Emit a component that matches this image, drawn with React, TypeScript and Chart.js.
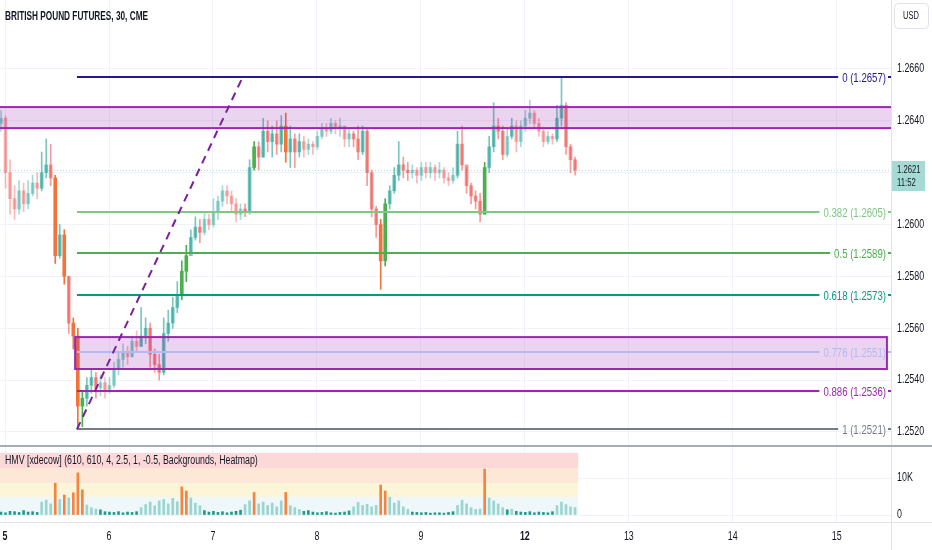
import React, { useEffect, useRef } from 'react';
import { Chart, registerables } from 'chart.js';

Chart.register(...registerables);

// ---------------- data ----------------
const title = 'BRITISH POUND FUTURES, 30, CME';
const indicatorLabel = 'HMV [xdecow] (610, 610, 4, 2.5, 1, -0.5, Backgrounds, Heatmap)';
const dayLabels = ['5', '6', '7', '8', '9', '12', '13', '14', '15'];
const boldDayLabels = ['5', '12'];
const priceTicks = [1.252, 1.254, 1.256, 1.258, 1.26, 1.262, 1.264, 1.266];
const volumeTicksK = [0, 10];

// prices in pips above 1.2500, one bucket per hour
const firstOpen = 139;
const closes = [
  141, 120, 110, 106, 113, 108, 112, 116, 114, 120, 123, 118, 88, 96, 80, 62, 57, 30, 33, 38,
  41, 37, 39, 36, 38, 44, 48, 51, 49, 55, 53, 57, 60, 50, 46, 43, 58, 62, 68, 73,
  82, 88, 95, 99, 97, 102, 100, 105, 109, 113, 111, 108, 104, 106, 105, 122, 130, 126, 136, 132,
  135, 131, 138, 128, 133, 128, 132, 129, 131, 130, 134, 137, 136, 139, 137, 138, 133, 135, 133, 128,
  136, 120, 106, 100, 86, 108, 113, 119, 123, 121, 120, 121, 119, 122, 120, 122, 120, 121, 118, 117,
  119, 131, 123, 115, 111, 109, 104, 122, 130, 138, 136, 127, 134, 138, 132, 138, 141, 143, 139, 136,
  132, 134, 133, 141, 146, 130, 125, 121,
];
const highs = [
  144, 142, 125, 115, 117, 116, 117, 119, 120, 128, 133, 131, 119, 100, 98, 80, 64, 60, 36, 41,
  44, 43, 42, 41, 41, 47, 51, 54, 53, 57, 59, 68, 64, 62, 52, 50, 64, 67, 72, 78,
  86, 92, 98, 103, 102, 105, 104, 110, 111, 115, 115, 113, 110, 108, 108, 125, 132, 132, 141, 140,
  138, 140, 142, 143, 138, 135, 135, 134, 133, 132, 136, 139, 139, 141, 140, 141, 138, 137, 136, 138,
  138, 137, 121, 107, 102, 110, 115, 122, 132, 126, 124, 123, 122, 124, 124, 124, 123, 124, 122, 120,
  122, 136, 138, 122, 116, 113, 112, 124, 134, 147, 141, 138, 137, 141, 140, 140, 144, 148, 144, 141,
  137, 136, 135, 146, 157, 147, 131, 126,
];
const lows = [
  136, 114, 104, 102, 104, 105, 106, 111, 110, 113, 118, 115, 85, 87, 77, 58, 52, 21, 22, 30,
  35, 33, 34, 33, 35, 37, 42, 45, 46, 49, 51, 53, 54, 45, 43, 40, 42, 55, 60, 66,
  71, 78, 89, 94, 93, 96, 98, 99, 102, 107, 108, 105, 101, 102, 103, 104, 121, 121, 126, 128,
  126, 127, 128, 124, 122, 122, 126, 126, 127, 127, 129, 133, 134, 135, 135, 134, 130, 130, 130, 125,
  127, 115, 103, 95, 75, 84, 106, 112, 117, 118, 117, 118, 116, 117, 118, 118, 117, 118, 116, 115,
  116, 118, 121, 112, 108, 106, 101, 104, 120, 128, 133, 125, 126, 133, 128, 130, 136, 139, 137, 134,
  130, 131, 131, 132, 138, 127, 120, 119,
];
// volume in thousands of contracts per bucket
const volumesK = [
  0.8, 0.6, 1.0, 0.9, 0.7, 1.2, 0.8, 0.9, 0.7,
  3.5, 4.0, 3.0, 8.6, 4.2, 5.4, 4.6, 6.0, 11.4, 6.8, 2.7, 2.0, 1.6, 1.4, 0.9,
  0.8, 0.7, 0.9, 0.6, 0.8, 0.7, 0.9,
  2.0, 2.8, 3.5, 2.5, 3.8, 4.2, 3.0, 4.5, 3.6, 7.6, 6.5, 4.6, 3.2, 2.5,
  1.2, 0.8, 1.0, 0.7, 0.9, 0.6, 0.8, 1.0,
  1.3, 2.8, 3.8, 6.1, 3.0, 3.5, 2.6, 3.2, 2.2, 3.8, 6.1, 2.5, 2.0, 1.5,
  1.0, 1.2, 0.8, 0.6, 0.7, 0.9, 0.6, 0.5, 0.7, 0.8, 1.1,
  2.2, 3.4, 2.6, 2.9, 2.2, 2.6, 8.1, 6.5, 4.8, 3.2, 3.8, 2.2, 1.5,
  0.8, 0.7, 0.6, 0.7, 0.5, 0.6, 0.6, 0.5, 0.7, 0.9,
  2.6, 4.0, 3.0, 2.0, 1.5, 1.6, 12.4, 4.6, 3.8, 3.0, 2.0, 1.4, 1.6, 1.0,
  0.8, 0.7, 0.9, 0.6, 0.8, 0.7, 0.6, 0.9,
  2.5, 3.5, 2.8, 2.2, 2.0,
];
const heatBandsK = [0, 4.9, 8.6, 12.7, 16.8];

const fibLevels = ['0', '0.382', '0.5', '0.618', '0.776', '0.886', '1'];
const fibPrices = [1.2657, 1.2605, 1.2589, 1.2573, 1.2551, 1.2536, 1.2521];
const fibColors = ['#22198f', '#81c784', '#4caf50', '#089981', '#b3b9f2', '#9c27b0', '#787b86'];

const lastPrice = 1.2621;
const countdown = '11:52';

// drawings (data-space anchors: bucket index, price)
const fibStartIndex = 16.8;
const trendFrom = { x: 16.8, y: 1.2521 };
const trendTo = { x: 53.5, y: 1.2657 };
const zoneTop = { from: -5, to: 205, hi: 1.26453, lo: 1.26372 };
const zoneLow = { from: 16.4, to: 196.0, hi: 1.25566, lo: 1.25443 };

// ---------------- layout / style ----------------
const FONT = '"Liberation Sans", Arial, sans-serif';
const SX = 0.74; // horizontal condensing of text
const TITLE_W = 143;
const TEXT = '#131722';
const GRID = '#f0f3fa';
const LINE = '#e0e3eb';
const W = 932;
const MAIN_H = 446;
const VOL_TOP = 447;
const VOL_H = 103;
const AXIS_W = 41;
const X_MIN = -0.22;
const X_MAX = 196.9;
const FIRST_DAY_INDEX = 0.9;
const BUCKETS_PER_DAY = 23;
const PRICE_MIN = 1.25146;
const PRICE_MAX = 1.26866;
const VOL_MIN = -1.89;
const VOL_MAX = 18.38;
const LOW_VOL_K = 1.5;

const toPrice = (p: number) => 1.25 + p / 10000;
const opens = closes.map((c, i) => (i === 0 ? firstOpen : closes[i - 1]));

function candleColor(i: number) {
  const up = closes[i] >= opens[i];
  const v = volumesK[i];
  if (v >= heatBandsK[1]) return up ? '#4caf50' : '#f2743a';
  if (v < LOW_VOL_K) return up ? 'rgba(38,166,154,0.42)' : 'rgba(239,83,80,0.4)';
  return up ? 'rgba(38,166,154,0.62)' : 'rgba(239,83,80,0.58)';
}
function volumeColor(v: number) {
  if (v >= heatBandsK[1]) return '#f5843f';
  if (v < LOW_VOL_K) return '#1f9c8c';
  return 'rgba(38,166,154,0.42)';
}

const dayTickValues = dayLabels.map((_, k) => FIRST_DAY_INDEX + k * BUCKETS_PER_DAY);

function drawText(
  ctx: CanvasRenderingContext2D,
  text: string,
  x: number,
  y: number,
  font: string,
  color: string,
  align: CanvasTextAlign,
  sx: number = SX,
) {
  ctx.save();
  ctx.translate(x, y);
  ctx.scale(sx, 1);
  ctx.font = font;
  ctx.fillStyle = color;
  ctx.textAlign = align;
  ctx.textBaseline = 'middle';
  ctx.fillText(text, 0, 0);
  ctx.restore();
}
function textWidth(ctx: CanvasRenderingContext2D, text: string, font: string, sx: number = SX) {
  ctx.save();
  ctx.font = font;
  const w = ctx.measureText(text).width * sx;
  ctx.restore();
  return w;
}

const mainPlugin = {
  id: 'mainDrawings',
  afterDatasetsDraw(chart: any) {
    const { ctx, chartArea: a } = chart;
    const x = chart.scales.x;
    const y = chart.scales.y;
    ctx.save();
    ctx.beginPath();
    ctx.rect(a.left, a.top, a.right - a.left, a.bottom - a.top);
    ctx.clip();

    // last price dotted line
    const py = y.getPixelForValue(lastPrice);
    ctx.strokeStyle = 'rgba(38,166,154,0.35)';
    ctx.lineWidth = 1;
    ctx.setLineDash([1, 2]);
    ctx.beginPath();
    ctx.moveTo(a.left, Math.round(py) + 0.5);
    ctx.lineTo(a.right, Math.round(py) + 0.5);
    ctx.stroke();
    ctx.setLineDash([]);

    // zones
    for (const z of [zoneTop, zoneLow]) {
      const x1 = x.getPixelForValue(z.from);
      const x2 = x.getPixelForValue(z.to);
      const y1 = y.getPixelForValue(z.hi);
      const y2 = y.getPixelForValue(z.lo);
      ctx.fillStyle = 'rgba(156,39,176,0.2)';
      ctx.fillRect(x1, y1, x2 - x1, y2 - y1);
      ctx.strokeStyle = '#9c27b0';
      ctx.lineWidth = 2;
      ctx.strokeRect(x1, y1, x2 - x1, y2 - y1);
    }

    // fib levels
    const fibFont = `13px ${FONT}`;
    const xs = x.getPixelForValue(fibStartIndex);
    fibLevels.forEach((lv, k) => {
      const yy = Math.round(y.getPixelForValue(fibPrices[k]));
      const label = `${lv} (${fibPrices[k].toFixed(4)})`;
      const tx = a.right - 5;
      const tw = textWidth(ctx, label, fibFont);
      ctx.strokeStyle = fibColors[k];
      ctx.lineWidth = 2;
      ctx.beginPath();
      ctx.moveTo(xs, yy);
      ctx.lineTo(tx - tw - 4, yy);
      ctx.stroke();
      ctx.beginPath();
      ctx.moveTo(a.right - 3, yy);
      ctx.lineTo(a.right, yy);
      ctx.stroke();
      drawText(ctx, label, tx, yy + 1, fibFont, fibColors[k], 'right');
    });

    // dashed trend line
    ctx.strokeStyle = '#7b1fa2';
    ctx.lineWidth = 2;
    ctx.setLineDash([8, 6]);
    ctx.beginPath();
    ctx.moveTo(x.getPixelForValue(trendFrom.x), y.getPixelForValue(trendFrom.y));
    ctx.lineTo(x.getPixelForValue(trendTo.x), y.getPixelForValue(trendTo.y));
    ctx.stroke();
    ctx.setLineDash([]);
    ctx.restore();
  },
  afterDraw(chart: any) {
    const { ctx, chartArea: a } = chart;
    const y = chart.scales.y;
    ctx.save();
    // axis separator
    ctx.strokeStyle = LINE;
    ctx.lineWidth = 1;
    ctx.beginPath();
    ctx.moveTo(a.right + 0.5, 0);
    ctx.lineTo(a.right + 0.5, chart.height);
    ctx.stroke();
    // price tick labels
    const tickFont = `12px ${FONT}`;
    priceTicks.forEach((v) => {
      drawText(ctx, v.toFixed(4), a.right + 6, y.getPixelForValue(v), tickFont, TEXT, 'left');
    });
    // title
    const titleFont = `bold 12px ${FONT}`;
    const tsx = TITLE_W / textWidth(ctx, title, titleFont, 1);
    drawText(ctx, title, 5, 17, titleFont, TEXT, 'left', tsx);
    // USD box
    ctx.fillStyle = '#ffffff';
    ctx.strokeStyle = LINE;
    ctx.lineWidth = 1;
    ctx.beginPath();
    ctx.roundRect(a.right + 3.5, 3.5, 34, 25, 4);
    ctx.fill();
    ctx.stroke();
    drawText(ctx, 'USD', a.right + 20, 16, `10px ${FONT}`, TEXT, 'center', 0.75);
    // last price label
    const py = Math.round(y.getPixelForValue(lastPrice));
    ctx.fillStyle = '#a6dad5';
    ctx.fillRect(a.right + 1, py - 9, 33, 30);
    drawText(ctx, lastPrice.toFixed(4), a.right + 6, py, `11px ${FONT}`, TEXT, 'left', 0.7);
    drawText(ctx, countdown, a.right + 6, py + 13, `11px ${FONT}`, TEXT, 'left', 0.7);
    ctx.restore();
  },
};

const volPlugin = {
  id: 'volDrawings',
  beforeDatasetsDraw(chart: any) {
    const { ctx, chartArea: a } = chart;
    const x = chart.scales.x;
    const y = chart.scales.y;
    const bandColors = ['#eef7f9', '#fdf5d8', '#fde7d7', '#fcd8d8'];
    const xEnd = x.getPixelForValue(volumesK.length - 0.3);
    ctx.save();
    for (let k = 0; k < 4; k++) {
      const yTop = y.getPixelForValue(heatBandsK[k + 1]);
      const yBot = y.getPixelForValue(heatBandsK[k]);
      ctx.fillStyle = bandColors[k];
      ctx.fillRect(a.left, yTop, xEnd - a.left, yBot - yTop);
    }
    drawText(ctx, indicatorLabel, 5, 14, `12px ${FONT}`, TEXT, 'left', 0.733);
    ctx.restore();
  },
  afterDraw(chart: any) {
    const { ctx, chartArea: a } = chart;
    const x = chart.scales.x;
    const y = chart.scales.y;
    ctx.save();
    ctx.strokeStyle = LINE;
    ctx.lineWidth = 1;
    ctx.beginPath();
    ctx.moveTo(0, a.bottom + 0.5);
    ctx.lineTo(chart.width, a.bottom + 0.5);
    ctx.moveTo(a.right + 0.5, 0);
    ctx.lineTo(a.right + 0.5, chart.height);
    ctx.stroke();
    const tickFont = `12px ${FONT}`;
    volumeTicksK.forEach((v) => {
      drawText(ctx, v === 0 ? '0' : `${v}K`, a.right + 6, y.getPixelForValue(v), tickFont, TEXT, 'left');
    });
    dayLabels.forEach((d, k) => {
      const f = boldDayLabels.includes(d) ? `bold 12px ${FONT}` : `12px ${FONT}`;
      drawText(ctx, d, x.getPixelForValue(dayTickValues[k]), a.bottom + 15, f, TEXT, 'center');
    });
    ctx.restore();
  },
};

export default function App() {
  const mainRef = useRef<HTMLCanvasElement>(null);
  const volRef = useRef<HTMLCanvasElement>(null);

  useEffect(() => {
    document.body.style.margin = '0';
    const colors = closes.map((_, i) => candleColor(i));
    const xScaleBase = {
      type: 'linear' as const,
      min: X_MIN,
      max: X_MAX,
      offset: false,
      border: { display: false },
      ticks: { display: false },
      grid: { color: GRID, drawTicks: false, offset: false },
      afterBuildTicks: (s: any) => {
        s.ticks = dayTickValues.map((v) => ({ value: v }));
      },
    };
    const yScaleBase = {
      type: 'linear' as const,
      position: 'right' as const,
      beginAtZero: false,
      grid: { color: GRID, drawTicks: false },
      border: { display: false },
      ticks: { display: false },
      afterFit: (s: any) => {
        s.width = AXIS_W;
        s.paddingTop = 0;
        s.paddingBottom = 0;
      },
    };
    const main = new Chart(mainRef.current as HTMLCanvasElement, {
      type: 'bar',
      data: {
        datasets: [
          {
            label: 'wicks',
            data: closes.map((_, i) => ({ x: i, y: [toPrice(lows[i]), toPrice(highs[i])] })) as any,
            backgroundColor: colors,
            barThickness: 1,
            grouped: false,
            minBarLength: 1,
          },
          {
            label: 'bodies',
            data: closes.map((c, i) => ({
              x: i,
              y: [toPrice(Math.min(opens[i], c)), toPrice(Math.max(opens[i], c))],
            })) as any,
            backgroundColor: colors,
            barThickness: 3,
            grouped: false,
            minBarLength: 1,
          },
        ],
      },
      options: {
        animation: false,
        responsive: false,
        layout: { padding: 0 },
        plugins: { legend: { display: false }, tooltip: { enabled: false } },
        scales: {
          x: {
            ...xScaleBase,
            afterFit: (s: any) => {
              s.height = 0;
              s.paddingLeft = 0;
              s.paddingRight = 0;
            },
          } as any,
          y: {
            ...yScaleBase,
            min: PRICE_MIN,
            max: PRICE_MAX,
            afterBuildTicks: (s: any) => {
              s.ticks = priceTicks.map((v) => ({ value: v }));
            },
          } as any,
        },
      },
      plugins: [mainPlugin],
    });

    const vol = new Chart(volRef.current as HTMLCanvasElement, {
      type: 'bar',
      data: {
        datasets: [
          {
            label: 'volume',
            data: volumesK.map((v, i) => ({ x: i, y: v })) as any,
            backgroundColor: volumesK.map(volumeColor),
            barThickness: 2,
            grouped: false,
          },
        ],
      },
      options: {
        animation: false,
        responsive: false,
        layout: { padding: 0 },
        plugins: { legend: { display: false }, tooltip: { enabled: false } },
        scales: {
          x: {
            ...xScaleBase,
            afterFit: (s: any) => {
              s.height = 28;
              s.paddingLeft = 0;
              s.paddingRight = 0;
            },
          } as any,
          y: {
            ...yScaleBase,
            min: VOL_MIN,
            max: VOL_MAX,
            afterBuildTicks: (s: any) => {
              s.ticks = volumeTicksK.map((v) => ({ value: v }));
            },
          } as any,
        },
      },
      plugins: [volPlugin],
    });

    return () => {
      main.destroy();
      vol.destroy();
    };
  }, []);

  return (
    <div style={{ position: 'absolute', left: 0, top: 0, width: W, height: 550, background: '#ffffff' }}>
      <canvas
        ref={mainRef}
        width={W}
        height={MAIN_H}
        style={{ position: 'absolute', left: 0, top: 0, width: W, height: MAIN_H }}
      />
      <div style={{ position: 'absolute', left: 0, top: 445, width: W, height: 2, background: '#a9acb5' }} />
      <canvas
        ref={volRef}
        width={W}
        height={VOL_H}
        style={{ position: 'absolute', left: 0, top: VOL_TOP, width: W, height: VOL_H }}
      />
    </div>
  );
}
